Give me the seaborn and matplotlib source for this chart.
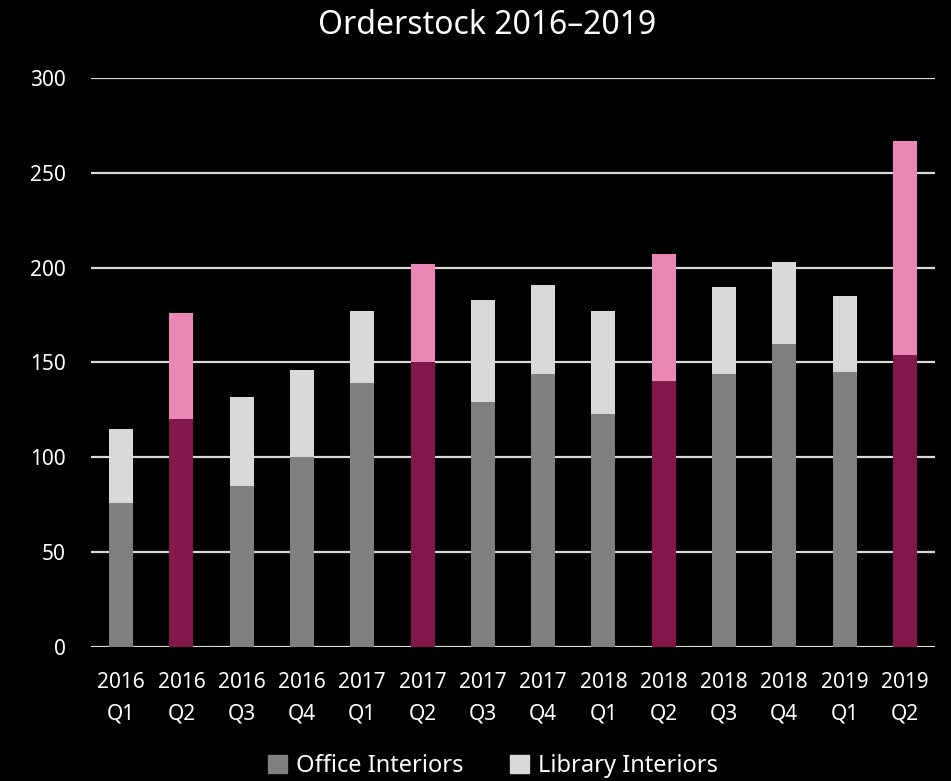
import numpy as np
import pandas as pd
import matplotlib
matplotlib.use('Agg')
import matplotlib.pyplot as plt
from matplotlib.patches import Patch
import seaborn as sns

# ── data ──
years = ['2016', '2016', '2016', '2016', '2017', '2017', '2017', '2017',
         '2018', '2018', '2018', '2018', '2019', '2019']
quarters = ['Q1', 'Q2', 'Q3', 'Q4', 'Q1', 'Q2', 'Q3', 'Q4',
            'Q1', 'Q2', 'Q3', 'Q4', 'Q1', 'Q2']
office = [76, 120, 85, 100, 139, 150, 129, 144, 123, 140, 144, 160, 145, 154]
library = [39, 56, 47, 46, 38, 52, 54, 47, 54, 67, 46, 43, 40, 113]

labels = [f'{y}\n{q}' for y, q in zip(years, quarters)]
df = pd.DataFrame({'label': labels, 'quarter': quarters,
                   'office': office, 'library': library})
df['total'] = df['office'] + df['library']

GREY, LIGHT = '#7f7f7f', '#d9d9d9'
DARK_PINK, PINK = '#82174a', '#ea87b5'
office_cols = [DARK_PINK if q == 'Q2' else GREY for q in quarters]
lib_cols = [PINK if q == 'Q2' else LIGHT for q in quarters]

sns.set_style('dark', {'axes.facecolor': 'black', 'figure.facecolor': 'black'})
plt.rcParams['font.family'] = ['Noto Sans', 'DejaVu Sans']

fig = plt.figure(figsize=(9.51, 7.81), dpi=100)
ax = fig.add_axes([91/951, 1 - 647/781, (935 - 91)/951, (647 - 78)/781])

# totals first (library colour), office drawn over it
sns.barplot(data=df, x='label', y='total', hue='label',
            palette=lib_cols, width=0.4, legend=False, ax=ax,
            saturation=1, linewidth=0, zorder=3)
sns.barplot(data=df, x='label', y='office', hue='label',
            palette=office_cols, width=0.4, legend=False, ax=ax,
            saturation=1, linewidth=0, zorder=4)

ax.set_ylim(0, 300)
ax.set_xlim(-0.5, len(labels) - 0.5)
ax.set_yticks(range(0, 301, 50))
ax.grid(axis='y', color='#d9d9d9', linewidth=1.6, zorder=1)
ax.grid(axis='x', visible=False)
for s in ax.spines.values():
    s.set_visible(False)
ax.set_xlabel('')
ax.set_ylabel('')
ax.tick_params(axis='y', colors='white', labelsize=15, length=0, pad=18)
ax.tick_params(axis='x', colors='white', labelsize=15, length=0, pad=18)
for t in ax.get_xticklabels():
    t.set_linespacing(1.65)

fig.text(487/951, 1 - 25/781, 'Orderstock 2016–2019', color='white',
         fontsize=23, ha='center', va='center')

handles = [Patch(color=GREY, label='Office Interiors'),
           Patch(color=LIGHT, label='Library Interiors')]
fig.legend(handles=handles, loc='center', bbox_to_anchor=(493/951, 1 - 766/781),
           ncol=2, frameon=False, fontsize=17, labelcolor='white',
           handlelength=0.8, handleheight=0.8, handletextpad=0.35,
           columnspacing=2.0)

fig.savefig('out.png', dpi=100, facecolor='black')
